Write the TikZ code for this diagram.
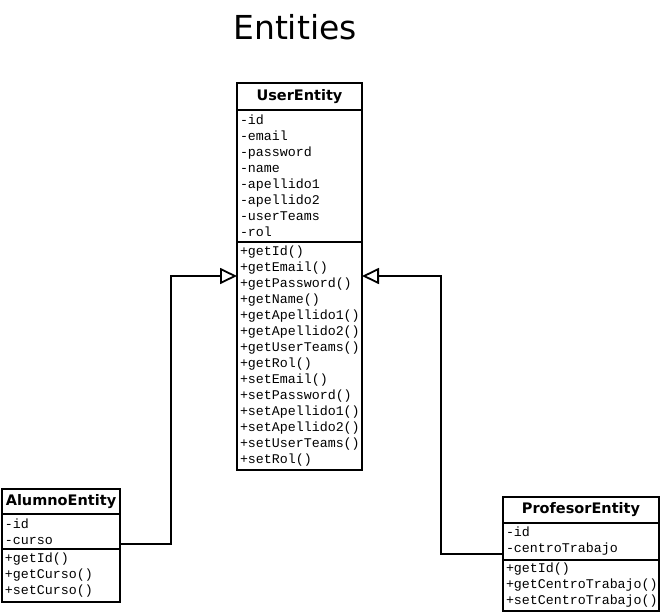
\documentclass[tikz,border=0pt]{standalone}
\usepackage{fontspec}
\setmainfont{DejaVu Sans}
\setmonofont{Liberation Mono}
\usetikzlibrary{arrows.meta,positioning}

\begin{document}
\begin{tikzpicture}[x=1pt, y=-1pt]
\tikzstyle{classhead}=[rectangle, draw, line width=1.8pt, anchor=north west, outer sep=0pt, inner sep=0pt, font=\fontsize{14.5}{16}\selectfont\bfseries]
\tikzstyle{classbody}=[rectangle, draw, line width=1.8pt, outer sep=0pt, inner xsep=3pt, inner ysep=0pt, align=left, font=\fontsize{13.3}{16}\selectfont\ttfamily]
\tikzstyle{drawstyle}=[line width=1.8pt, -{Triangle[open, length=17pt, width=16pt, fill=white]}]

\useasboundingbox (0,0) rectangle (660,613);
\node (title) at (295,27) {\fontsize{33}{36}\selectfont Entities};

% UserEntity
\node[classhead, minimum width=125pt, minimum height=27pt] (ueHead) at (237,83) {UserEntity};
\node[classbody, below=0pt of ueHead, text width=119pt, minimum height=132pt] (ueAttr) {-id\\-email\\-password\\-name\\-apellido1\\-apellido2\\-userTeams\\-rol};
\node[classbody, below=0pt of ueAttr, text width=119pt, minimum height=228pt] (ueMeth) {+getId()\\+getEmail()\\+getPassword()\\+getName()\\+getApellido1()\\+getApellido2()\\+getUserTeams()\\+getRol()\\+setEmail()\\+setPassword()\\+setApellido1()\\+setApellido2()\\+setUserTeams()\\+setRol()};

% AlumnoEntity
\node[classhead, minimum width=118pt, minimum height=25pt] (alHead) at (2,489) {AlumnoEntity};
\node[classbody, below=0pt of alHead, text width=112pt, minimum height=35pt] (alAttr) {-id\\-curso};
\node[classbody, below=0pt of alAttr, text width=112pt, minimum height=53pt] (alMeth) {+getId()\\+getCurso()\\+setCurso()};

% ProfesorEntity
\node[classhead, minimum width=156pt, minimum height=26pt] (prHead) at (503,497) {ProfesorEntity};
\node[classbody, below=0pt of prHead, text width=150pt, minimum height=37pt] (prAttr) {-id\\-centroTrabajo};
\node[classbody, below=0pt of prAttr, text width=150pt, minimum height=51pt] (prMeth) {+getId()\\+getCentroTrabajo()\\+setCentroTrabajo()};

\draw[drawstyle] ([yshift=5pt]alAttr.south east) -- ++(51,0) |- ([yshift=-34pt]ueMeth.north west);
\draw[drawstyle] ([yshift=6pt]prAttr.south west) -- ++(-62,0) |- ([yshift=-34pt]ueMeth.north east);
\end{tikzpicture}
\end{document}
